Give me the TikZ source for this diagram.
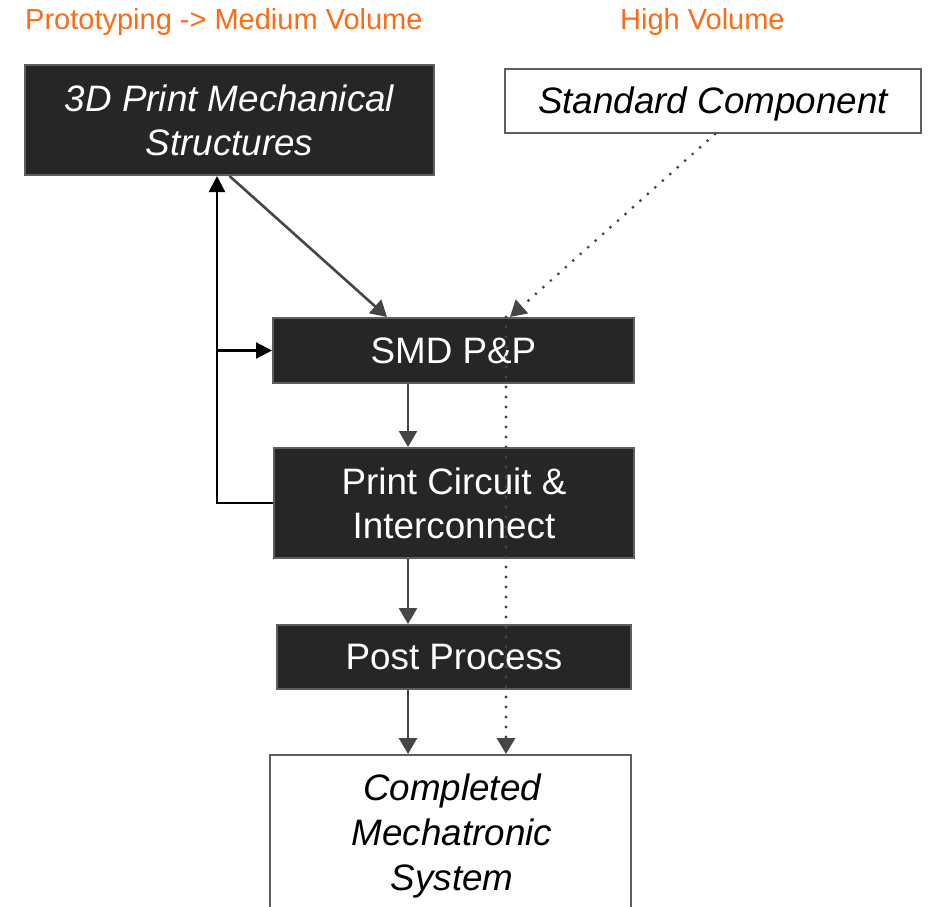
\documentclass[tikz,border=0pt]{standalone}
\usepackage{fontspec}
\setmainfont{Liberation Sans}
\usetikzlibrary{arrows.meta,calc}
\definecolor{boxdark}{HTML}{262626}
\definecolor{boxedge}{HTML}{5E5E5E}
\definecolor{flowgray}{HTML}{454545}
\definecolor{heading}{HTML}{FF6A13}
\tikzset{
  darkbox/.style={draw=boxedge, line width=2pt, fill=boxdark, text=white,
    align=center, inner sep=0pt, font=\fontsize{36.8}{44}\selectfont},
  lightbox/.style={draw=boxedge, line width=2pt, fill=white, text=black,
    align=center, inner sep=0pt, font=\fontsize{36.8}{45}\selectfont\itshape},
  heading/.style={text=heading, anchor=base west, inner sep=0pt,
    font=\fontsize{29}{34}\selectfont},
  flow/.style={draw=flowgray, line width=2.6pt,
    -{Triangle[length=16pt,width=18pt]}},
  dotflow/.style={draw=flowgray, line width=3.2pt, line cap=round,
    dash pattern=on 0pt off 10pt, -{Triangle[length=16pt,width=18pt]}},
  loopline/.style={draw=black, line width=2.2pt},
  loopflow/.style={loopline, -{Triangle[length=16pt,width=16pt]}}
}
\begin{document}
\begin{tikzpicture}[x=1pt,y=-1pt]
  \useasboundingbox (0,0) rectangle (929,907);

  % column headings
  \node[heading] (hproto) at (25,30) {Prototyping -> Medium Volume};
  \node[heading] (hhigh) at (620,30) {High Volume};

  % process boxes
  \node[darkbox, minimum width=409pt, minimum height=110pt] (mech) at (229.5,120)
    {\itshape 3D Print Mechanical\\\itshape Structures};
  \node[lightbox, minimum width=416pt, minimum height=64pt] (std) at (713,101)
    {\rule{0pt}{33pt}Standard Component};
  \node[darkbox, minimum width=361pt, minimum height=65pt] (smd) at (453.5,350.5)
    {SMD P\&P};
  \node[darkbox, minimum width=360pt, minimum height=110pt] (pci) at (454,503)
    {Print Circuit \&\\Interconnect};
  \node[darkbox, minimum width=354pt, minimum height=64pt] (post) at (454,657)
    {Post Process};
  \node[lightbox, minimum width=361pt, minimum height=154pt] (sys) at (450.5,832)
    {\rule{0pt}{35pt}\hspace*{3pt}Completed\\\hspace*{3pt}Mechatronic\\\hspace*{3pt}System};

  % main flow, one shared column
  \coordinate (col) at ([xshift=136pt]smd.south west);
  \draw[flow] (mech.south) -- ([xshift=115pt]smd.north west);
  \draw[flow] (col |- smd.south) -- (col |- pci.north);
  \draw[flow] (col |- pci.south) -- (col |- post.north);
  \draw[flow] (col |- post.south) -- (col |- sys.north);

  % loop back from the circuit stage
  \coordinate (loopbot) at ($(pci.west)+(-56pt,0)$);
  \coordinate (looptop) at (loopbot |- mech.south);
  \coordinate (loopmid) at (loopbot |- smd.west);
  \draw[loopline] (pci.west) -- (loopbot) -- (loopmid);
  \draw[loopflow] (loopmid) -- (looptop);
  \draw[loopflow] (loopmid) -- (smd.west);

  % standard components path
  \draw[dotflow] ([xshift=2pt]std.south) -- ([xshift=238pt]smd.north west);
  \coordinate (dottop) at ([xshift=234pt]smd.north west);
  \draw[dotflow] (dottop) -- (dottop |- sys.north);
\end{tikzpicture}
\end{document}
